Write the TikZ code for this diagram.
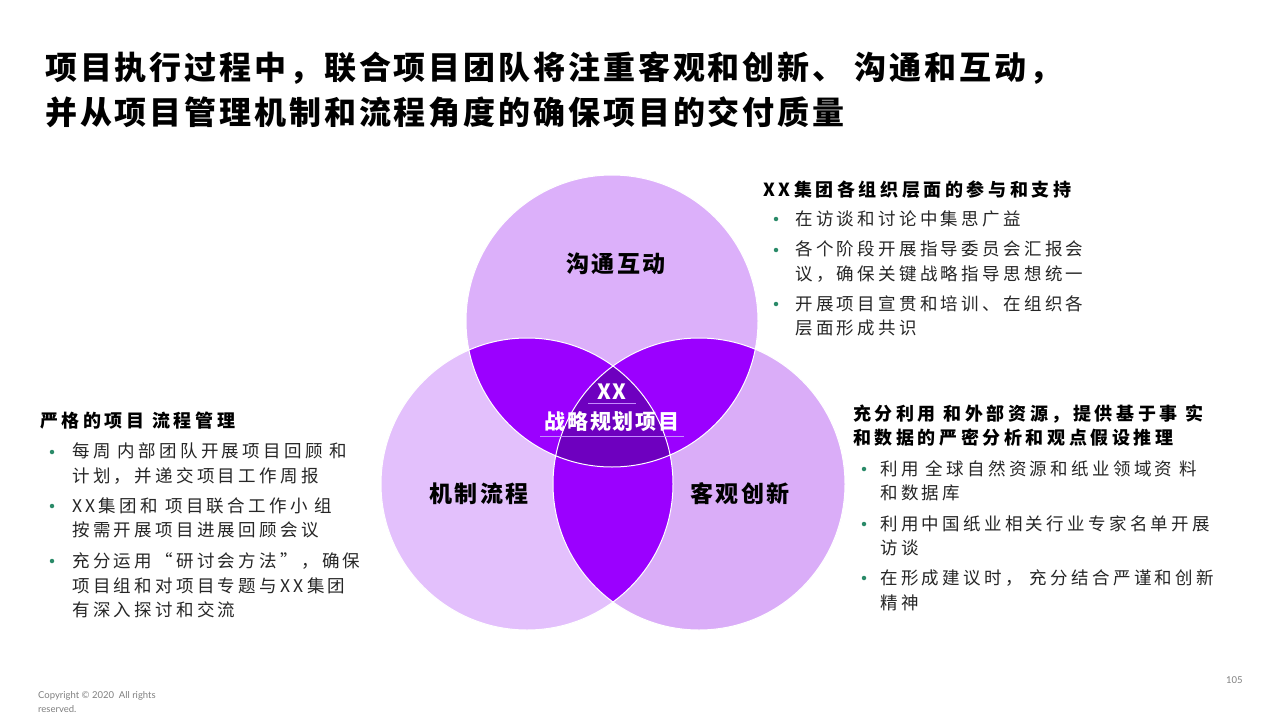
\documentclass[tikz,border=0pt]{standalone}
\usepackage{fontspec}
\setmainfont{Noto Sans CJK SC}
\newfontfamily\cjk[LetterSpace=9]{Noto Sans CJK SC}
\newfontfamily\cjkbody[LetterSpace=19]{Noto Sans CJK SC}
\newfontfamily\cjkhead[LetterSpace=20]{Noto Sans CJK SC}
\newfontfamily\latin{Lato}
\definecolor{topfill}{HTML}{DCB0FA}
\definecolor{leftfill}{HTML}{E3C0FC}
\definecolor{rightfill}{HTML}{DAADF8}
\definecolor{pairfill}{HTML}{9B00FF}
\definecolor{corefill}{HTML}{6E00BF}
\definecolor{dotgreen}{HTML}{2A8A68}
\definecolor{uline}{HTML}{C48BFF}
\begin{document}
\begin{tikzpicture}[x=1pt, y=-1pt,
  title/.style={anchor=west, inner sep=0pt, font=\cjk\bfseries\fontsize{32}{44}\selectfont},
  txt/.style={anchor=west, inner sep=0pt, align=left, text=black!85, font=\cjkbody\fontsize{17.5}{24.5}\selectfont},
  head/.style={txt, text=black, font=\cjkhead\bfseries\fontsize{18}{24}\selectfont},
  dot/.style={circle, fill=dotgreen, inner sep=0pt, minimum size=4.5pt},
  lbl/.style={inner sep=0pt, font=\cjk\bfseries\fontsize{23}{23}\selectfont},
  core/.style={inner sep=0pt, text=white, font=\cjk\bfseries\fontsize{21}{21}\selectfont},
  note/.style={anchor=west, inner sep=0pt, align=left, text=gray, font=\latin\fontsize{9.5}{14}\selectfont}]
\useasboundingbox (0,0) rectangle (1280,720);
\fill[white] (0,0) rectangle (1280,720);
% title
\node[title] (t1) at (45,68) {项目执行过程中，联合项目团队将注重客观和创新、 沟通和互动，};
\node[title] (t2) at (45,112) {并从项目管理机制和流程角度的确保项目的交付质量};
% the three circles
\coordinate (ctop) at (612,321);
\coordinate (cleft) at (527,484);
\coordinate (cright) at (699,484);
\fill[topfill] (ctop) circle (146pt);
\fill[leftfill] (cleft) circle (146pt);
\fill[rightfill] (cright) circle (146pt);
% pairwise overlaps
\begin{scope}
  \clip (ctop) circle (146pt);
  \fill[pairfill] (cleft) circle (146pt);
  \fill[pairfill] (cright) circle (146pt);
\end{scope}
\begin{scope}
  \clip (cleft) circle (146pt);
  \fill[pairfill] (cright) circle (146pt);
\end{scope}
% common part
\begin{scope}
  \clip (ctop) circle (146pt);
  \clip (cleft) circle (146pt);
  \fill[corefill] (cright) circle (146pt);
\end{scope}
\draw[white, line width=1pt] (ctop) circle (146pt) (cleft) circle (146pt) (cright) circle (146pt);
% circle labels
\node[lbl] (comm) at (616,264) {沟通互动};
\node[lbl] (mech) at (479,494) {机制流程};
\node[lbl] (innov) at (740,494) {客观创新};
\node[core] (xx) at (612,392) {XX};
\node[core] (plan) at (612,422) {战略规划项目};
\draw[uline, line width=0.6pt] ([xshift=-9pt,yshift=-3pt]xx.south west) -- ([xshift=9pt,yshift=-3pt]xx.south east);
\draw[uline, line width=0.6pt] ([xshift=-4pt,yshift=-4pt]plan.south west) -- ([xshift=4pt,yshift=-4pt]plan.south east);
% top right block
\node[head] (hsup) at (763,190) {XX集团各组织层面的参与和支持};
\node[dot] (ds1) at (776,219) {};
\node[txt] (s1) at (795,219) {在访谈和讨论中集思广益};
\node[dot] (ds2) at (776,250) {};
\node[txt] (s2) at (795,261.5) {各个阶段开展指导委员会汇报会\\议，确保关键战略指导思想统一};
\node[dot] (ds3) at (776,304) {};
\node[txt] (s3) at (795,316) {开展项目宣贯和培训、在组织各\\层面形成共识};
% left block
\node[head] (hproc) at (40,421) {严格的项目 流程管理};
\node[dot] (dp1) at (52,452) {};
\node[txt] (p1) at (72,463.5) {每周 内部团队开展项目回顾 和\\计划，并递交项目工作周报};
\node[dot] (dp2) at (52,506) {};
\node[txt] (p2) at (72,518) {XX集团和 项目联合工作小 组\\按需开展项目进展回顾会议};
\node[dot] (dp3) at (52,561) {};
\node[txt] (p3) at (72,585.5) {充分运用“研讨会方法”，确保\\项目组和对项目专题与XX集团\\有深入探讨和交流};
% right block
\node[head, align=left] (hres) at (853,426) {充分利用 和外部资源，提供基于事 实\\和数据的严密分析和观点假设推理};
\node[dot] (dr1) at (864,469) {};
\node[txt] (r1) at (880,481) {利用 全球自然资源和纸业领域资 料\\和数据库};
\node[dot] (dr2) at (864,524) {};
\node[txt] (r2) at (880,536) {利用中国纸业相关行业专家名单开展\\访谈};
\node[dot] (dr3) at (864,578) {};
\node[txt] (r3) at (880,590.5) {在形成建议时， 充分结合严谨和创新\\精神};
% footer
\node[note] (copy) at (38,702) {Copyright © 2020~~All rights\\reserved.};
\node[note] (page) at (1226,680) {105};
\end{tikzpicture}
\end{document}
